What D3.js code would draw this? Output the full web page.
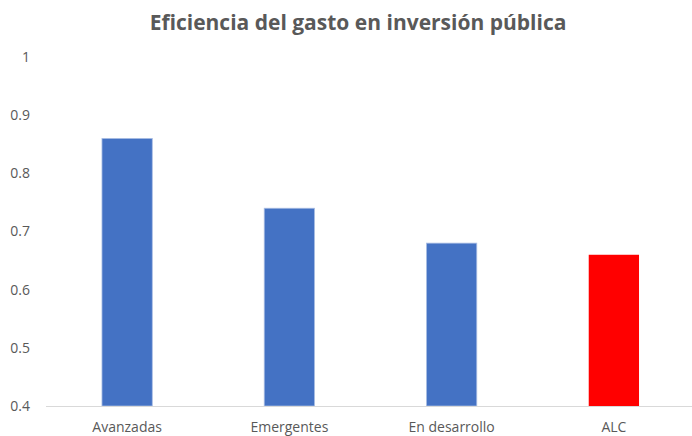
<!DOCTYPE html>
<html>
<head>
<meta charset="utf-8">
<script src="https://cdn.jsdelivr.net/npm/d3@7"></script>
<style>
  body { margin: 0; background: #fff; }
  text { font-family: "Open Sans", "Noto Sans", sans-serif; fill: #595959; }
</style>
</head>
<body>
<svg id="chart"></svg>
<script>
var categories = ["Avanzadas", "Emergentes", "En desarrollo", "ALC"];
var values = [0.86, 0.74, 0.68, 0.66];
var barColors = ["#4472c4", "#4472c4", "#4472c4", "#ff0000"];
var yTicks = [0.4, 0.5, 0.6, 0.7, 0.8, 0.9, 1];

var width = 692, height = 436;
var svg = d3.select("#chart").attr("width", width).attr("height", height);

var x = d3.scaleBand()
  .domain(categories)
  .range([46, 695])
  .paddingInner(0.69)
  .paddingOuter(0.345);

var y = d3.scaleLinear()
  .domain([0.4, 1])
  .range([406, 57]);

svg.append("text")
  .attr("x", 358)
  .attr("y", 30)
  .attr("text-anchor", "middle")
  .style("font-size", "21px")
  .style("font-weight", "bold")
  .text("Eficiencia del gasto en inversión pública");

var yAxis = svg.append("g")
  .attr("transform", "translate(30,0)")
  .call(d3.axisLeft(y).tickValues(yTicks).tickSize(0).tickPadding(0)
    .tickFormat(function(d) { return d === 1 ? "1" : d3.format(".1f")(d); }));
yAxis.select(".domain").remove();
yAxis.selectAll("text").style("font-size", "14px").style("font-family", null);

svg.selectAll(".bar")
  .data(values)
  .enter()
  .append("rect")
  .attr("class", "bar")
  .attr("x", function(d, i) { return x(categories[i]); })
  .attr("y", function(d) { return y(d); })
  .attr("width", x.bandwidth())
  .attr("height", function(d) { return y(0.4) - y(d); })
  .style("fill", function(d, i) { return barColors[i]; })
  .style("stroke", function(d, i) { return i < 3 ? "#a9bde3" : "none"; })
  .style("stroke-width", 0.8);

var xAxis = svg.append("g")
  .attr("transform", "translate(0,406)")
  .call(d3.axisBottom(x).tickSize(0).tickPadding(16));
xAxis.select(".domain").attr("d", "M46,0.5H692").style("stroke", "#d9d9d9").style("stroke-width", 1.2);
xAxis.selectAll("text").style("font-size", "14px").style("font-family", null);
</script>
</body>
</html>
